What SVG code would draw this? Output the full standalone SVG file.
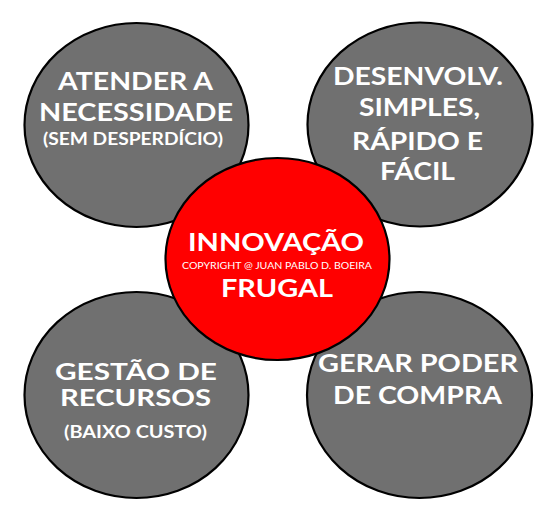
<svg xmlns="http://www.w3.org/2000/svg" width="553" height="509" viewBox="0 0 553 509">
<style>
.gray{fill:#707070;stroke:#000;stroke-width:2.2}
.red{fill:#ff0000;stroke:#000;stroke-width:2.2}
text{font-family:"Lato","Open Sans","Liberation Sans",sans-serif;font-weight:700;fill:#fff;text-anchor:middle}
.big{font-size:25px}
.tight{font-size:23.5px}
.mid{font-size:16.5px}
.small{font-size:10px;font-weight:400}
</style>
<rect width="553" height="509" fill="#fff"/>
<g id="connectors"></g>
<g id="node-atender">
<ellipse class="gray" cx="136.5" cy="125" rx="112" ry="102"/>
<text class="big" x="135.5" y="90" textLength="155" lengthAdjust="spacingAndGlyphs">ATENDER A</text>
<text class="big" x="136" y="121" textLength="194" lengthAdjust="spacingAndGlyphs">NECESSIDADE</text>
<text class="mid" x="133" y="145" textLength="180" lengthAdjust="spacingAndGlyphs">(SEM DESPERDÍCIO)</text>
</g>
<g id="node-desenvolv">
<ellipse class="gray" cx="420" cy="124.5" rx="112.5" ry="102"/>
<text class="big" x="418" y="85" textLength="170" lengthAdjust="spacingAndGlyphs">DESENVOLV.</text>
<text class="big" x="419.5" y="116" textLength="121" lengthAdjust="spacingAndGlyphs">SIMPLES,</text>
<text class="big" x="417.5" y="150" textLength="131" lengthAdjust="spacingAndGlyphs">RÁPIDO E</text>
<text class="big" x="417.5" y="180" textLength="75" lengthAdjust="spacingAndGlyphs">FÁCIL</text>
</g>
<g id="node-gestao">
<ellipse class="gray" cx="136.5" cy="395" rx="112" ry="103"/>
<text class="tight" x="136" y="380" textLength="162" lengthAdjust="spacingAndGlyphs">GESTÃO DE</text>
<text class="tight" x="135.5" y="406" textLength="151" lengthAdjust="spacingAndGlyphs">RECURSOS</text>
<text class="mid" x="135.5" y="438" textLength="143" lengthAdjust="spacingAndGlyphs">(BAIXO CUSTO)</text>
</g>
<g id="node-gerar">
<ellipse class="gray" cx="419.5" cy="395" rx="112.5" ry="103"/>
<text class="big" x="418" y="372" textLength="200" lengthAdjust="spacingAndGlyphs">GERAR PODER</text>
<text class="big" x="417.5" y="404" textLength="169" lengthAdjust="spacingAndGlyphs">DE COMPRA</text>
</g>
<g id="node-center">
<ellipse class="red" cx="277.5" cy="259" rx="112" ry="101"/>
<text class="big" x="276" y="251" textLength="176" lengthAdjust="spacingAndGlyphs">INNOVAÇÃO</text>
<text class="small" x="277" y="269" textLength="190" lengthAdjust="spacingAndGlyphs">COPYRIGHT @ JUAN PABLO D. BOEIRA</text>
<text class="big" x="277" y="297" textLength="112" lengthAdjust="spacingAndGlyphs">FRUGAL</text>
</g>
</svg>
